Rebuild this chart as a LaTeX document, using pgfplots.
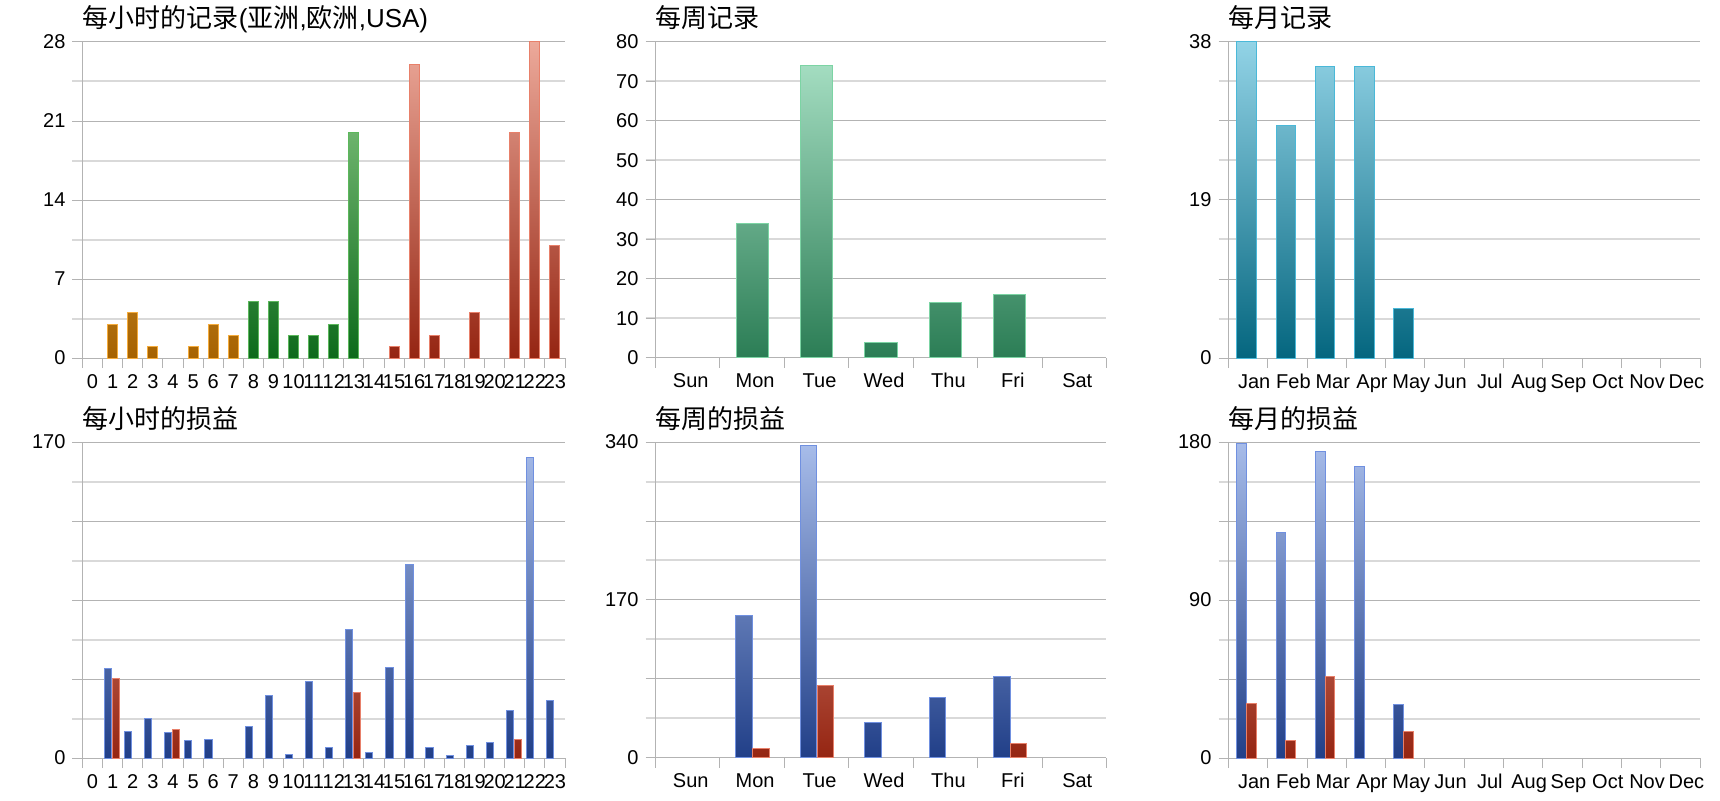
\documentclass[border=0pt]{standalone}
\usepackage{pgfplots}
\pgfplotsset{compat=1.18}
\usepackage{fontspec}
\setmainfont{Liberation Sans}
\newfontfamily\cjk{Noto Sans CJK SC}
\definecolor{gridD}{HTML}{B3B3B3}
\definecolor{gridL}{HTML}{D9D9D9}
\definecolor{orL}{HTML}{F2C468}\definecolor{orD}{HTML}{A66200}\definecolor{orE}{HTML}{F5AC3C}
\definecolor{grL}{HTML}{94D18E}\definecolor{grD}{HTML}{0D6A1B}\definecolor{grE}{HTML}{5CB85C}
\definecolor{rdL}{HTML}{ECA99A}\definecolor{rdD}{HTML}{952512}\definecolor{rdE}{HTML}{E8806A}
\definecolor{wkL}{HTML}{ADE4C9}\definecolor{wkD}{HTML}{2B7D55}\definecolor{wkE}{HTML}{7CD4A4}
\definecolor{moL}{HTML}{92D3E6}\definecolor{moD}{HTML}{04667F}\definecolor{moE}{HTML}{4AB8D8}
\definecolor{blL}{HTML}{A8BDEA}\definecolor{blD}{HTML}{213F88}\definecolor{blE}{HTML}{7090E0}
\pgfplotsset{
 base/.style={
  scale only axis, height=158pt, anchor=north west,
  axis lines=left, axis line style={draw=gridD, line width=0.5pt, -},
  ymin=0, enlargelimits=false, clip=false,
  /pgf/number format/assume math mode=true,
  tick align=outside, major tick length=5pt, minor tick length=5pt,
  every major x tick/.append style={draw=none},
  every minor x tick/.append style={draw=gridD, line width=0.5pt},
  every major y tick/.append style={draw=gridD, line width=0.5pt},
  every minor y tick/.append style={draw=gridL, line width=1pt},
  ymajorgrids, yminorgrids, minor y tick num=1,
  major grid style={draw=gridD, line width=0.5pt},
  minor grid style={draw=gridL, line width=1pt},
  ticklabel style={font=\fontsize{10}{11}\selectfont, text=black},
  xticklabel style={anchor=base, yshift=-10pt},
  yticklabel style={anchor=east},
  title style={anchor=base west, at={(0,1)}, yshift=1pt, inner sep=0pt, font=\fontsize{13}{15}\selectfont},
 },
 hours/.style={xmin=-0.5, xmax=23.5, xtick={0,...,23}, minor xtick={-0.5,0.5,...,23.5},
   xticklabels={0,1,2,3,4,5,6,7,8,9,10,11,12,13,14,15,16,17,18,19,20,21,22,23}},
 days/.style={xmin=-0.5, xmax=6.5, xtick={0,...,6}, minor xtick={-0.5,0.5,...,6.5},
   xticklabels={Sun,Mon,Tue,Wed,Thu,Fri,Sat}, xticklabel style={xshift=1.5pt}},
 months/.style={xmin=-0.5, xmax=11.5, xtick={0,...,11}, minor xtick={-0.5,0.5,...,11.5},
   xticklabels={Jan,Feb,Mar,Apr,May,Jun,Jul,Aug,Sep,Oct,Nov,Dec}, xticklabel style={xshift=3pt}},
 gb/.style n args={5}{ybar, bar width=#1, bar shift=#2, draw=#3E, line width=0.5pt,
   bottom color=#3D, top color=#3L!#4!#3D},
 orb/.style={gb={0.5}{0}{or}{#1}{}},
 grb/.style={gb={0.5}{0}{gr}{#1}{}},
 rdb/.style={gb={0.5}{0}{rd}{#1}{}},
 wkb/.style={gb={0.5}{0}{wk}{#1}{}},
 mob/.style={gb={0.5}{-0.04}{mo}{#1}{}},
 hbl/.style={gb={0.36}{-0.235}{bl}{#1}{}},
 hrd/.style={gb={0.36}{0.155}{rd}{#1}{}},
 wbl/.style={gb={0.254}{-0.124}{bl}{#1}{}},
 wrd/.style={gb={0.254}{0.139}{rd}{#1}{}},
 mbl/.style={gb={0.25}{-0.165}{bl}{#1}{}},
 mrd/.style={gb={0.25}{0.085}{rd}{#1}{}},
}
\begin{document}
\begin{tikzpicture}
\path[use as bounding box] (0,0) rectangle (860pt,400pt);
% ---------- hourly records
\begin{axis}[base, hours, width=241.25pt, at={(41.25pt,379pt)},
  ymax=28, ytick={0,7,14,21,28}, yticklabels={0,7,14,21,28},
  title={{\cjk 每小时的记录}({\cjk 亚洲},{\cjk 欧洲},USA)}]
\addplot[orb=11] coordinates {(1,3)};
\addplot[orb=14] coordinates {(2,4)};
\addplot[orb=4] coordinates {(3,1)};
\addplot[orb=4] coordinates {(5,1)};
\addplot[orb=11] coordinates {(6,3)};
\addplot[orb=7] coordinates {(7,2)};
\addplot[grb=18] coordinates {(8,5)};
\addplot[grb=18] coordinates {(9,5)};
\addplot[grb=7] coordinates {(10,2)};
\addplot[grb=7] coordinates {(11,2)};
\addplot[grb=11] coordinates {(12,3)};
\addplot[grb=71] coordinates {(13,20)};
\addplot[rdb=4] coordinates {(15,1)};
\addplot[rdb=93] coordinates {(16,26)};
\addplot[rdb=7] coordinates {(17,2)};
\addplot[rdb=14] coordinates {(19,4)};
\addplot[rdb=71] coordinates {(21,20)};
\addplot[rdb=100] coordinates {(22,28)};
\addplot[rdb=36] coordinates {(23,10)};
\end{axis}
% ---------- weekly records
\begin{axis}[base, days, width=225.5pt, at={(327.75pt,379pt)},
  ymax=80, ytick={0,20,40,60,80}, yticklabels={0,20,40,60,80},
  extra y ticks={10,30,50,70}, extra y tick labels={10,30,50,70},
  extra y tick style={grid=none, tick style={draw=none}},
  title={\cjk 每周记录}]
\addplot[wkb=42.5] coordinates {(1,34)};
\addplot[wkb=92.5] coordinates {(2,74)};
\addplot[wkb=5] coordinates {(3,4)};
\addplot[wkb=17.5] coordinates {(4,14)};
\addplot[wkb=20] coordinates {(5,16)};
\end{axis}
% ---------- monthly records
\begin{axis}[base, months, width=235.75pt, at={(614.25pt,379pt)},
  ymax=38, ytick={0,9.5,19,28.5,38}, yticklabels={0,,19,,38},
  title={\cjk 每月记录}]
\addplot[mob=100] coordinates {(0,38)};
\addplot[mob=74] coordinates {(1,28)};
\addplot[mob=92] coordinates {(2,35)};
\addplot[mob=92] coordinates {(3,35)};
\addplot[mob=16] coordinates {(4,6)};
\end{axis}
% ---------- hourly P/L
\begin{axis}[base, hours, width=241.25pt, at={(41.25pt,179pt)},
  ymax=170, ytick={0,42.5,85,127.5,170}, yticklabels={0,,,,170},
  title={\cjk 每小时的损益}]
\addplot[hbl=28] coordinates {(1,48)};
\addplot[hrd=25] coordinates {(1,43)};
\addplot[hbl=8] coordinates {(2,14)};
\addplot[hbl=13] coordinates {(3,21.5)};
\addplot[hbl=8] coordinates {(4,13.6)};
\addplot[hrd=9] coordinates {(4,15.1)};
\addplot[hbl=6] coordinates {(5,9.5)};
\addplot[hbl=6] coordinates {(6,10)};
\addplot[hbl=10] coordinates {(8,16.7)};
\addplot[hbl=20] coordinates {(9,33.4)};
\addplot[hbl=1] coordinates {(10,1.8)};
\addplot[hbl=24] coordinates {(11,41.2)};
\addplot[hbl=3] coordinates {(12,5.4)};
\addplot[hbl=41] coordinates {(13,69)};
\addplot[hrd=21] coordinates {(13,35.5)};
\addplot[hbl=2] coordinates {(14,2.9)};
\addplot[hbl=29] coordinates {(15,48.6)};
\addplot[hbl=61] coordinates {(16,104.2)};
\addplot[hbl=3] coordinates {(17,5.9)};
\addplot[hbl=1] coordinates {(18,1.1)};
\addplot[hbl=4] coordinates {(19,6.8)};
\addplot[hbl=5] coordinates {(20,8.2)};
\addplot[hbl=15] coordinates {(21,25.6)};
\addplot[hrd=6] coordinates {(21,10)};
\addplot[hbl=95] coordinates {(22,161.8)};
\addplot[hbl=18] coordinates {(23,31.2)};
\end{axis}
% ---------- weekly P/L
\begin{axis}[base, days, width=225.5pt, at={(327.75pt,179pt)},
  ymax=340, ytick={0,85,170,255,340}, yticklabels={0,,170,,340},
  title={\cjk 每周的损益}]
\addplot[wbl=45] coordinates {(1,152.8)};
\addplot[wrd=3] coordinates {(1,10)};
\addplot[wbl=99] coordinates {(2,336)};
\addplot[wrd=23] coordinates {(2,78.2)};
\addplot[wbl=11] coordinates {(3,37.7)};
\addplot[wbl=19] coordinates {(4,65.3)};
\addplot[wbl=26] coordinates {(5,87.2)};
\addplot[wrd=4] coordinates {(5,15.1)};
\end{axis}
% ---------- monthly P/L
\begin{axis}[base, months, width=235.75pt, at={(614.25pt,179pt)},
  ymax=180, ytick={0,45,90,135,180}, yticklabels={0,,90,,180},
  title={\cjk 每月的损益}]
\addplot[mbl=99] coordinates {(0,179)};
\addplot[mrd=17] coordinates {(0,31.3)};
\addplot[mbl=72] coordinates {(1,128.7)};
\addplot[mrd=6] coordinates {(1,10.1)};
\addplot[mbl=97] coordinates {(2,174.5)};
\addplot[mrd=26] coordinates {(2,46.7)};
\addplot[mbl=92] coordinates {(3,165.9)};
\addplot[mbl=17] coordinates {(4,30.6)};
\addplot[mrd=8] coordinates {(4,15)};
\end{axis}
\end{tikzpicture}
\end{document}
